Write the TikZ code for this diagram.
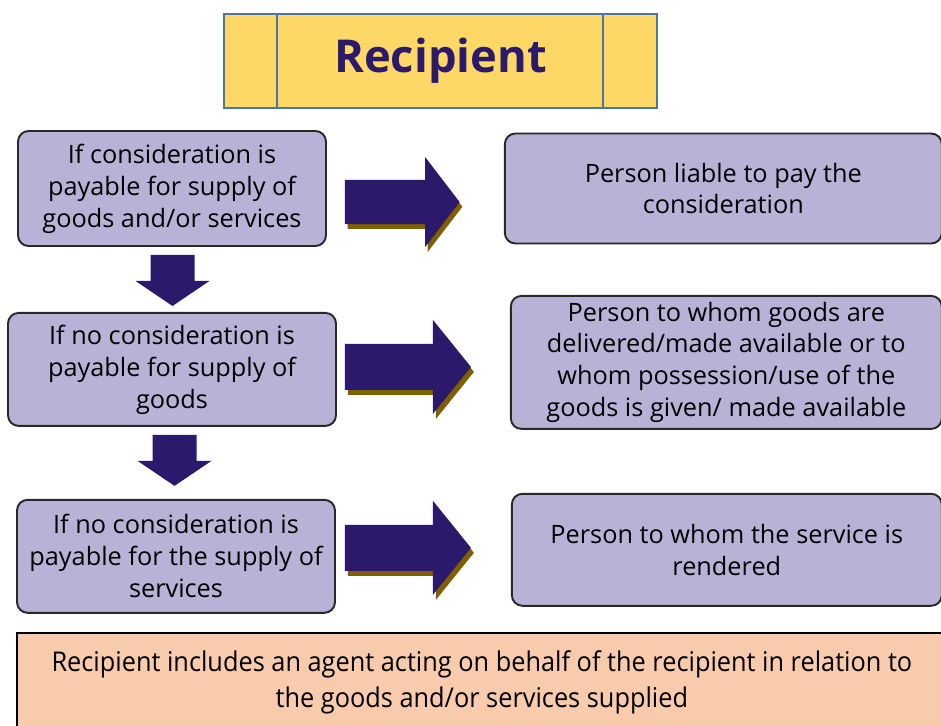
\documentclass[tikz,border=0pt]{standalone}
\usepackage{fontspec}
\setmainfont{Open Sans}
\newfontfamily\narrowfont[FakeStretch=0.93]{Open Sans}
\usetikzlibrary{positioning,calc}

\definecolor{boxlilac}{RGB}{185,178,215}
\definecolor{boxedge}{RGB}{40,40,40}
\definecolor{arrowblue}{RGB}{43,25,107}
\definecolor{arrowshade}{RGB}{127,95,0}
\definecolor{titlefill}{RGB}{253,216,102}
\definecolor{titleedge}{RGB}{74,118,165}
\definecolor{notefill}{RGB}{248,203,173}

\tikzset{
  casebox/.style={draw=boxedge, line width=1.1pt, fill=boxlilac, rounded corners=6pt,
    align=center, inner sep=0pt, font=\fontsize{14.4}{18.2}\selectfont},
  rarrow/.pic={
    \fill[arrowshade] (3,-18) -- (91,-18) -- (91,-42) -- (129,5) -- (91,52) -- (91,28) -- (3,28) -- cycle;
    \fill[arrowblue] (0,-23) -- (88,-23) -- (88,-47) -- (126,0) -- (88,47) -- (88,23) -- (0,23) -- cycle;
  },
  darrow/.pic={
    \fill[arrowblue] (-22,0) -- (22,0) -- (22,26) -- (37,26) -- (0,51) -- (-37,26) -- (-22,26) -- cycle;
  }
}

\begin{document}
\begin{tikzpicture}[x=0.02cm, y=-0.02cm]
        \useasboundingbox (0,0) rectangle (941,725);

        % heading
        \node[draw=titleedge, line width=1.1pt, fill=titlefill, minimum width=8.66cm, minimum height=1.88cm, text=arrowblue, font=\fontsize{25.8}{28}\selectfont\bfseries] (title) at (440.5,61) {Recipient};
        \draw[titleedge, line width=1.1pt] ([xshift=1.08cm]title.north west) -- ([xshift=1.08cm]title.south west);
        \draw[titleedge, line width=1.1pt] ([xshift=-1.1cm]title.north east) -- ([xshift=-1.1cm]title.south east);

        % conditions
        \node[casebox, minimum width=6.16cm, minimum height=2.3cm] (c1) at (172,188.5) {If consideration is\\payable for supply of\\goods and/or services};
        \node[casebox, minimum width=6.56cm, minimum height=2.26cm] (c2) [below=1.3cm of c1] {If no consideration is\\payable for supply of\\goods};
        \node[casebox, minimum width=6.36cm, minimum height=2.26cm] (c3) [below=1.44cm of c2, xshift=0.08cm] {If no consideration is\\payable for the supply of\\services};

        % recipients
        \node[casebox, minimum width=8.74cm, minimum height=2.2cm] (r1) [right=3.54cm of c1] {Person liable to pay the\\consideration};
        \node[casebox, minimum width=8.62cm, minimum height=2.66cm] (r2) [right=3.46cm of c2, yshift=0.14cm] {Person to whom goods are\\delivered/made available or to\\whom possession/use of the\\goods is given/ made available};
        \node[casebox, minimum width=8.6cm, minimum height=2.24cm] (r3) [right=3.5cm of c3, yshift=0.13cm] {Person to whom the service is\\rendered};

        % block arrows
        \pic[xscale=0.91, yscale=0.96] at ([shift={(18,13.5)}]c1.east) {rarrow};
        \pic at ([shift={(8,-2.5)}]c2.east) {rarrow};
        \pic at ([shift={(9,-8.5)}]c3.east) {rarrow};
        \pic at ([shift={(0.5,8)}]c1.south) {darrow};
        \pic at ([shift={(2.5,8)}]c2.south) {darrow};

        % note
        \node[draw=black, line width=1.1pt, fill=notefill, minimum width=18.6cm, minimum height=1.96cm, anchor=north west, align=center, font=\narrowfont\fontsize{15.5}{20.5}\selectfont] (note) at (16,632) {Recipient includes an agent acting on behalf of the recipient in relation to\\the goods and/or services supplied};

\end{tikzpicture}
\end{document}
